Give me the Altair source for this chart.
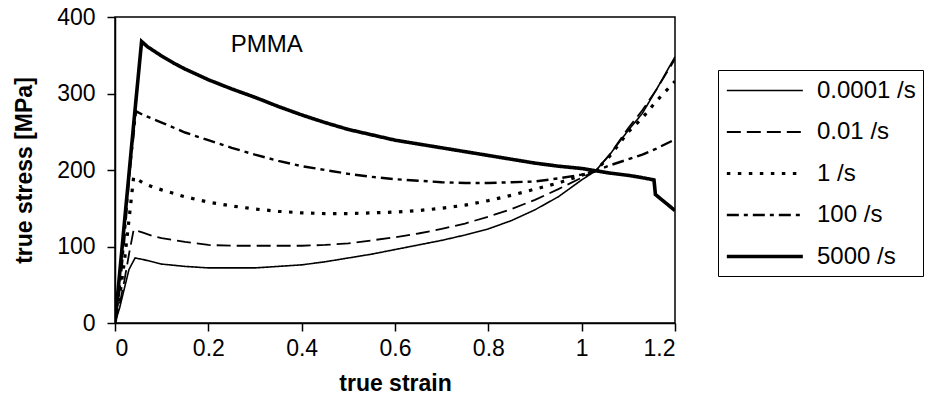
import altair as alt
import pandas as pd

rates = ["0.0001 /s", "0.01 /s", "1 /s", "100 /s", "5000 /s"]

x_00001 = [0, 0.01, 0.02, 0.03, 0.043, 0.06, 0.08, 0.1, 0.15, 0.2, 0.25, 0.3, 0.35, 0.4, 0.45, 0.5, 0.55, 0.6, 0.65, 0.7, 0.75, 0.8, 0.85, 0.9, 0.95, 1.0, 1.03, 1.06, 1.1, 1.13, 1.16, 1.2]
y_00001 = [0, 20, 45, 70, 85, 83, 80, 77, 74, 72, 72, 72, 74, 76, 80, 85, 90, 96, 102, 108, 115, 123, 134, 148, 165, 187, 199, 220, 252, 274, 305, 348]

x_001 = [0, 0.01, 0.02, 0.03, 0.04, 0.06, 0.08, 0.1, 0.15, 0.2, 0.25, 0.3, 0.35, 0.4, 0.45, 0.5, 0.55, 0.6, 0.65, 0.7, 0.75, 0.8, 0.85, 0.9, 0.95, 1.0, 1.03, 1.06, 1.1, 1.13, 1.16, 1.2]
y_001 = [0, 25, 55, 90, 122, 118, 114, 111, 106, 102, 101, 101, 101, 101, 102, 104, 108, 112, 117, 123, 130, 139, 149, 161, 175, 190, 199, 220, 255, 278, 305, 345]

x_1 = [0, 0.01, 0.02, 0.03, 0.04, 0.06, 0.08, 0.1, 0.15, 0.2, 0.25, 0.3, 0.35, 0.4, 0.45, 0.5, 0.55, 0.6, 0.65, 0.7, 0.75, 0.8, 0.85, 0.9, 0.95, 1.0, 1.03, 1.06, 1.1, 1.13, 1.16, 1.2]
y_1 = [0, 35, 80, 135, 191, 183, 178, 174, 165, 158, 153, 149, 146, 144, 143, 143, 144, 145, 147, 150, 154, 160, 167, 175, 183, 193, 199, 218, 250, 268, 290, 316]

x_100 = [0, 0.01, 0.02, 0.03, 0.045, 0.06, 0.08, 0.1, 0.15, 0.2, 0.25, 0.3, 0.35, 0.4, 0.45, 0.5, 0.55, 0.6, 0.65, 0.7, 0.75, 0.8, 0.85, 0.9, 0.95, 1.0, 1.03, 1.06, 1.1, 1.13, 1.16, 1.2]
y_100 = [0, 45, 110, 190, 277, 272, 267, 262, 249, 239, 229, 220, 212, 205, 200, 195, 191, 188, 186, 184, 183, 183, 184, 185, 189, 194, 199, 206, 214, 220, 228, 240]

x_5000 = [0, 0.02, 0.04, 0.057, 0.07, 0.085, 0.1, 0.125, 0.15, 0.175, 0.2, 0.25, 0.3, 0.35, 0.4, 0.45, 0.5, 0.55, 0.6, 0.65, 0.7, 0.75, 0.8, 0.85, 0.9, 0.95, 1.0, 1.03, 1.06, 1.1, 1.13, 1.155, 1.158, 1.2]
y_5000 = [0, 130, 260, 368, 361, 355, 349, 340, 332, 325, 318, 306, 295, 283, 272, 262, 253, 246, 239, 234, 229, 224, 219, 214, 209, 205, 202, 199, 196, 193, 190, 187, 168, 147]

annot_text = ["PMMA"]
annot_x = [0.325]
annot_y = [364]

rows = []
for name, xs, ys in zip(rates, [x_00001, x_001, x_1, x_100, x_5000], [y_00001, y_001, y_1, y_100, y_5000]):
    for i, (xv, yv) in enumerate(zip(xs, ys)):
        rows.append({"rate": name, "strain": xv, "stress": yv, "idx": i})
df = pd.DataFrame(rows)

FONT = "Liberation Sans"

lines = alt.Chart(df).mark_line(color="black", strokeCap="butt", clip=True).encode(
    x=alt.X("strain:Q", scale=alt.Scale(domain=[0, 1.2], nice=False),
            axis=alt.Axis(values=[0, 0.2, 0.4, 0.6, 0.8, 1.0, 1.2], format="~g", title="true strain")),
    y=alt.Y("stress:Q", scale=alt.Scale(domain=[0, 400], nice=False),
            axis=alt.Axis(values=[0, 100, 200, 300, 400], title="true stress [MPa]")),
    detail="rate:N",
    order="idx:Q",
    strokeDash=alt.StrokeDash("rate:N", scale=alt.Scale(domain=rates, range=[[1, 0], [14, 6], [3.5, 7.5], [12, 5, 4, 5], [1, 0]]),
                              legend=alt.Legend(title=None)),
    strokeWidth=alt.StrokeWidth("rate:N", scale=alt.Scale(type="ordinal", domain=rates, range=[1.6, 1.8, 3.2, 2.4, 3.6]),
                                legend=alt.Legend(title=None)),
)

annot = alt.Chart(pd.DataFrame({"t": annot_text, "x": annot_x, "y": annot_y})).mark_text(
    font=FONT, fontSize=24, color="black", align="center", baseline="middle"
).encode(x="x:Q", y="y:Q", text="t:N")

chart = (lines + annot).properties(
    width=560, height=306,
    autosize=alt.AutoSizeParams(type="none"),
    padding={"left": 115, "top": 17, "right": 253, "bottom": 84},
).configure_view(
    stroke="black", strokeWidth=1.5
).configure_axis(
    domainColor="black", domainWidth=1.5, tickColor="black", tickWidth=1.5, tickSize=8,
    grid=False, labelFont=FONT, labelFontSize=23, labelColor="black",
    titleFont=FONT, titleFontSize=23, titleFontWeight="bold", titleColor="black",
).configure_axisX(
    labelPadding=6, titlePadding=12,
).configure_axisY(
    labelPadding=12, titlePadding=20,
).configure_legend(
    orient="none", legendX=603, legendY=53,
    strokeColor="black", padding=7, fillColor="white",
    symbolType="M-1,0H5", symbolSize=642, symbolStrokeColor="black",
    labelFont=FONT, labelFontSize=24, labelColor="black", labelOffset=63,
    rowPadding=15, labelLimit=300,
)

chart.save("out.html", embed_options={"renderer": "svg", "actions": False})
